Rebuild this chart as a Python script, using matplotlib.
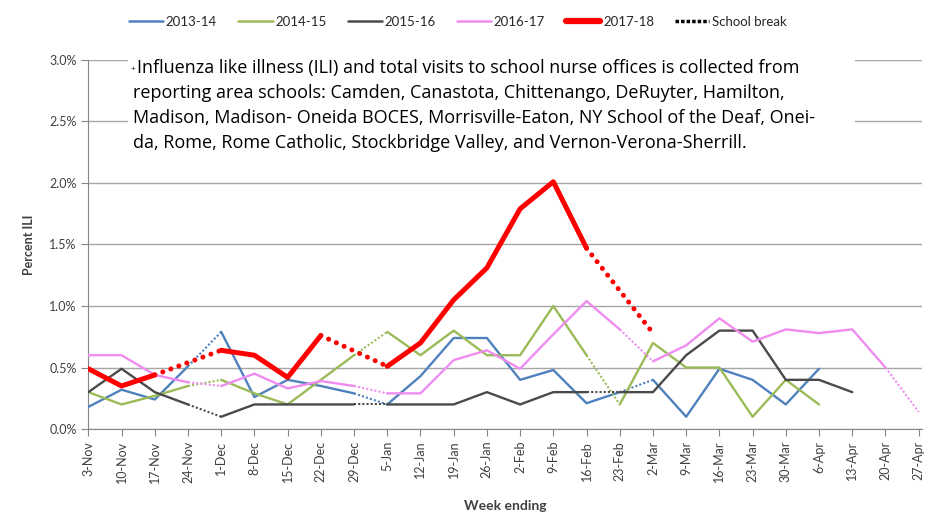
import matplotlib
matplotlib.use('Agg')
import matplotlib.pyplot as plt
from matplotlib.patches import Rectangle
import numpy as np

weeks = ['3-Nov', '10-Nov', '17-Nov', '24-Nov', '1-Dec', '8-Dec', '15-Dec', '22-Dec',
         '29-Dec', '5-Jan', '12-Jan', '19-Jan', '26-Jan', '2-Feb', '9-Feb', '16-Feb',
         '23-Feb', '2-Mar', '9-Mar', '16-Mar', '23-Mar', '30-Mar', '6-Apr', '13-Apr',
         '20-Apr', '27-Apr']

nan = np.nan
# percent ILI per week, nan = no data
s2013 = [0.18, 0.32, 0.24, 0.51, 0.79, 0.26, 0.40, 0.35, 0.29, 0.20, 0.43, 0.74, 0.74,
         0.40, 0.48, 0.21, 0.30, 0.40, 0.10, 0.49, 0.40, 0.20, 0.49, nan, nan, nan]
s2014 = [0.30, 0.20, 0.27, 0.35, 0.40, 0.29, 0.20, 0.40, 0.60, 0.79, 0.60, 0.80, 0.60,
         0.60, 1.00, 0.60, 0.20, 0.70, 0.50, 0.50, 0.10, 0.40, 0.20, nan, nan, nan]
s2015 = [0.30, 0.49, 0.30, 0.20, 0.10, 0.20, 0.20, 0.20, 0.20, 0.20, 0.20, 0.20, 0.30,
         0.20, 0.30, 0.30, 0.30, 0.30, 0.60, 0.80, 0.80, 0.40, 0.40, 0.30, nan, nan]
s2016 = [0.60, 0.60, 0.44, 0.38, 0.35, 0.45, 0.33, 0.39, 0.35, 0.29, 0.29, 0.56, 0.64,
         0.49, 0.77, 1.04, 0.81, 0.55, 0.68, 0.90, 0.71, 0.81, 0.78, 0.81, 0.50, 0.14]
s2017 = [0.49, 0.35, 0.44, nan, 0.64, 0.60, 0.42, 0.76, nan, 0.51, 0.70, 1.05, 1.31,
         1.79, 2.01, 1.47, nan, 0.78, nan, nan, nan, nan, nan, nan, nan, nan]

# school break segments (from week index, to week index)
b2013 = [(3, 4), (8, 9), (16, 17)]
b2014 = [(3, 4), (8, 9), (15, 16)]
b2015 = [(3, 4), (8, 9), (15, 16)]
b2016 = [(3, 4), (8, 9), (16, 17), (24, 25)]
b2017 = [(2, 4), (7, 9), (15, 17)]

labels = ['2013-14', '2014-15', '2015-16', '2016-17', '2017-18']
colors = ['#4F81BD', '#9BBB59', '#4A4A4A', '#F08CF0', '#FF0000']

note_lines = ['Influenza like illness (ILI) and total visits to school nurse offices is collected from',
              'reporting area schools: Camden, Canastota, Chittenango, DeRuyter, Hamilton,',
              'Madison, Madison- Oneida BOCES, Morrisville-Eaton, NY School of the Deaf, Onei-',
              'da, Rome, Rome Catholic, Stockbridge Valley, and Vernon-Verona-Sherrill.']


def solid_runs(vals, breaks):
    cut = set()
    for a, b in breaks:
        for k in range(a, b):
            cut.add(k)
    runs = []
    cur = []
    for k, v in enumerate(vals):
        if np.isnan(v):
            if len(cur) > 1:
                runs.append(cur)
            cur = []
            continue
        cur.append(k)
        if k in cut:
            if len(cur) > 1:
                runs.append(cur)
            cur = []
    if len(cur) > 1:
        runs.append(cur)
    return runs


plt.rcParams['font.family'] = ['Lato', 'DejaVu Sans']

fig = plt.figure(figsize=(9.25, 5.12), dpi=100)
ax = fig.add_axes([0.0955, 0.162, 0.9016, 0.721])

series = [s2013, s2014, s2015, s2016, s2017]
breaks = [b2013, b2014, b2015, b2016, b2017]
x = np.arange(len(weeks))

for i in range(len(series)):
    vals = np.array(series[i], dtype=float)
    thick = labels[i] == '2017-18'
    lw = 3.6 if thick else 1.7
    for run in solid_runs(vals, breaks[i]):
        ax.plot(x[run], vals[run], color=colors[i], lw=lw, solid_joinstyle='round',
                solid_capstyle='round', zorder=3 + i)
    for a, b in breaks[i]:
        if thick:
            ax.plot([a, b], [vals[a], vals[b]], color=colors[i], lw=3.6,
                    linestyle=(0, (0.01, 1.7)), dash_capstyle='round', zorder=3 + i)
        else:
            ax.plot([a, b], [vals[a], vals[b]], color=colors[i], lw=1.5,
                    linestyle=(0, (1, 1)), zorder=3 + i)

ax.set_xlim(0, 25.11)
ax.set_ylim(0, 3.0)
ax.set_yticks(np.arange(0, 3.01, 0.5))
ax.set_yticklabels(['%.1f%%' % v for v in np.arange(0, 3.01, 0.5)])
ax.set_xticks(x)
ax.set_xticklabels(weeks, rotation=90)
ax.tick_params(axis='both', colors='#868686', labelcolor='#404040', labelsize=9,
               length=5, width=0.8)
ax.yaxis.grid(True, color='#A6A6A6', lw=1)
ax.set_axisbelow(True)
for side in ['top', 'right']:
    ax.spines[side].set_visible(False)
ax.spines['left'].set_color('#868686')
ax.spines['bottom'].set_color('#868686')
ax.set_ylabel('Percent ILI', fontsize=9, fontweight='bold', color='#404040', labelpad=10)
ax.set_xlabel('Week ending', fontsize=10, fontweight='bold', color='#404040', labelpad=12)

# white note box over the top gridlines
fig.patches.append(Rectangle((128 / 925, 1 - 157 / 512), 727 / 925, 105 / 512,
                             transform=fig.transFigure, facecolor='white',
                             edgecolor='none', zorder=2))
fig.text(131 / 925, 1 - 70 / 512, '+', ha='left', va='center', fontsize=6,
         color='black', family='Open Sans', zorder=3)
for k, line in enumerate(note_lines):
    xs = 137 if k == 0 else 133
    fig.text(xs / 925, 1 - (68 + 25 * k) / 512, line, ha='left', va='center',
             fontsize=13, color='black', family='Open Sans', zorder=3)

# legend
handles = []
for i in range(len(labels)):
    lw = 4.5 if labels[i] == '2017-18' else 1.8
    h, = ax.plot([], [], color=colors[i], lw=lw, label=labels[i], solid_capstyle='round')
    handles.append(h)
h, = ax.plot([], [], color='black', lw=2.5, linestyle=(0, (1, 0.6)), label='School break')
handles.append(h)
fig.legend(handles=handles, loc='center', bbox_to_anchor=(0.495, 0.957), ncol=6,
           frameon=False, fontsize=9.5, handlelength=2.6, handletextpad=0.2,
           columnspacing=1.6, labelcolor='#262626')

fig.savefig('out.png', dpi=100)
